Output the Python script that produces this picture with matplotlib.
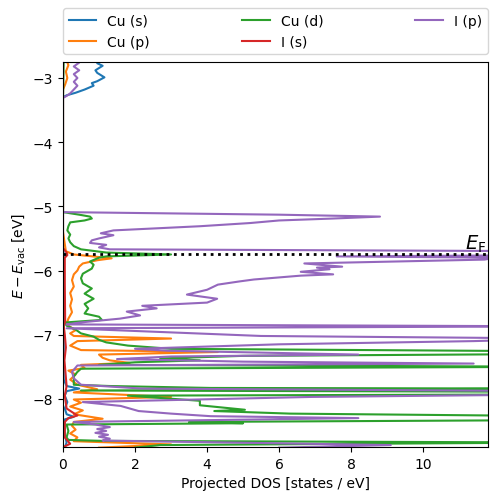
import matplotlib
matplotlib.use("Agg")
import matplotlib.pyplot as plt

# energy levels (eV, relative to vacuum)
e_fermi = -5.75
e_min, e_max = -8.75, -2.75
dos_max = 11.8

# Cu (s)
cu_s_E = [-2.70, -2.73, -2.77, -2.81, -2.88, -2.92, -2.99, -3.05, -3.08, -3.12, -3.18, -3.23, -3.27, -3.30,
          -5.60, -5.75, -7.70, -7.80, -7.84, -7.88, -7.95, -8.05, -8.15, -8.24, -8.28, -8.32, -8.55, -8.68, -8.76]
cu_s_dos = [1.0, 1.1, 0.95, 1.1, 0.9, 0.95, 1.15, 0.95, 0.8, 0.85, 0.6, 0.35, 0.1, 0.0,
            0.0, 0.02, 0.02, 0.1, 0.45, 0.1, 0.05, 0.12, 0.05, 0.1, 0.3, 0.05, 0.05, 0.1, 0.05]

# Cu (p)
cu_p_E = [-2.70, -2.80, -2.90, -3.00, -3.10, -3.18, -5.40, -5.55, -5.70, -5.75, -5.79, -5.81, -5.84, -5.89,
          -5.94, -6.00, -6.06, -6.15, -6.25, -6.35, -6.45, -6.55, -6.65, -6.75, -6.83, -6.88, -6.93, -6.98,
          -7.02, -7.06, -7.10, -7.17, -7.24, -7.27, -7.31, -7.36, -7.40, -7.44, -7.47, -7.52, -7.56, -7.62,
          -7.70, -7.78, -7.85, -7.90, -7.97, -8.01, -8.06, -8.12, -8.18, -8.24, -8.31, -8.36, -8.42, -8.48,
          -8.54, -8.60, -8.66, -8.71, -8.76]
cu_p_dos = [0.08, 0.15, 0.08, 0.12, 0.06, 0.0, 0.0, 0.04, 0.08, 0.3, 1.0, 1.35, 0.95, 0.55,
            0.45, 0.4, 0.3, 0.25, 0.3, 0.2, 0.25, 0.2, 0.25, 0.15, 0.1, 0.2, 0.35, 0.2,
            0.3, 3.0, 0.4, 0.2, 0.5, 4.3, 1.0, 1.1, 1.3, 1.85, 0.5, 0.6, 0.15, 0.35,
            0.2, 0.4, 0.95, 0.3, 3.0, 0.3, 0.5, 0.2, 0.55, 0.3, 1.1, 0.3, 0.25, 0.35,
            0.2, 0.4, 0.3, 3.0, 1.0]

# Cu (d)
cu_d_E = [-2.70, -3.30, -5.09, -5.13, -5.16, -5.19, -5.22, -5.25, -5.31, -5.375, -5.44, -5.50, -5.56,
          -5.62, -5.67, -5.72, -5.75, -5.78, -5.80, -5.86, -5.91, -5.97, -6.05, -6.12, -6.20, -6.28,
          -6.36, -6.44, -6.52, -6.59, -6.67, -6.72, -6.77, -6.81, -6.86, -6.92, -6.98, -7.03, -7.08,
          -7.12, -7.17, -7.22, -7.26, -7.30, -7.33, -7.37, -7.40, -7.43, -7.47, -7.50, -7.53, -7.58,
          -7.65, -7.72, -7.78, -7.80, -7.83, -7.84, -7.87, -7.89, -7.93, -7.95, -8.03, -8.10, -8.17,
          -8.19, -8.23, -8.27, -8.33, -8.36, -8.38, -8.40, -8.50, -8.60, -8.64, -8.655, -8.68, -8.72, -8.76]
cu_d_dos = [0.02, 0.0, 0.0, 0.45, 0.75, 0.8, 0.6, 0.2, 0.15, 0.12, 0.2, 0.15, 0.2,
            0.3, 0.5, 1.2, 3.0, 1.2, 1.0, 0.75, 0.85, 0.8, 0.55, 0.5, 0.55, 0.8,
            0.6, 0.85, 0.6, 0.7, 0.6, 1.0, 1.08, 0.05, 0.1, 0.35, 0.5, 0.85, 1.0,
            1.2, 1.8, 3.0, 14.0, 14.0, 5.0, 2.7, 3.8, 2.0, 1.0, 14.0, 0.5, 0.4,
            0.3, 0.3, 0.3, 1.3, 4.1, 14.0, 0.5, 14.0, 14.0, 1.8, 3.8, 3.8, 5.05,
            4.2, 6.3, 14.0, 14.0, 3.5, 5.0, 0.1, 0.15, 0.1, 0.15, 1.1, 14.0, 2.7, 2.0]

# I (s)
i_s_E = [-2.70, -5.65, -5.72, -5.76, -5.80, -6.20, -6.80, -6.86, -7.00, -7.20, -7.40, -7.60, -7.80,
         -7.95, -8.15, -8.26, -8.30, -8.36, -8.60, -8.70, -8.74, -8.76]
i_s_dos = [0.0, 0.0, 0.1, 0.12, 0.05, 0.05, 0.06, 0.02, 0.05, 0.08, 0.04, 0.07, 0.1,
           0.05, 0.1, 0.4, 0.15, 0.05, 0.05, 0.2, 0.05, 0.05]

# I (p)
i_p_E = [-2.70, -2.76, -2.82, -2.88, -2.94, -3.00, -3.06, -3.12, -3.18, -3.24, -3.28, -3.31,
         -5.09, -5.13, -5.16, -5.19, -5.22, -5.26, -5.31, -5.375, -5.42, -5.45, -5.50, -5.53, -5.57,
         -5.60, -5.64, -5.67, -5.70, -5.76, -5.78, -5.80, -5.83, -5.89, -5.94, -5.955, -5.98, -6.02,
         -6.06, -6.08, -6.14, -6.17, -6.22, -6.30, -6.375, -6.44, -6.50, -6.55, -6.59, -6.64, -6.70,
         -6.75, -6.81, -6.84, -6.87, -6.90, -7.02, -7.06, -7.10, -7.15, -7.22, -7.25, -7.31, -7.34,
         -7.38, -7.42, -7.45, -7.48, -7.58, -7.68, -7.78, -7.84, -7.88, -7.93, -7.97, -8.05, -8.11,
         -8.19, -8.23, -8.27, -8.30, -8.36, -8.40, -8.44, -8.47, -8.50, -8.53, -8.56, -8.59, -8.62,
         -8.65, -8.72, -8.76]
i_p_dos = [0.35, 0.45, 0.3, 0.45, 0.3, 0.4, 0.3, 0.4, 0.3, 0.2, 0.1, 0.0,
           0.0, 6.0, 8.8, 7.5, 6.0, 5.2, 3.8, 1.4, 1.05, 1.4, 1.0, 0.8, 0.75,
           1.2, 1.0, 1.3, 14.0, 14.0, 7.6, 12.0, 11.7, 6.7, 7.75, 7.05, 7.4, 6.6,
           7.5, 6.6, 5.3, 4.9, 4.3, 4.0, 3.44, 4.28, 4.0, 2.2, 2.6, 1.77, 2.14,
           1.58, 0.47, 0.1, 14.0, 0.1, 5.5, 14.0, 11.4, 6.0, 2.0, 2.9, 8.2, 3.0,
           1.5, 5.0, 11.4, 0.4, 0.25, 0.3, 0.5, 2.2, 14.0, 14.0, 6.9, 0.55, 1.6,
           2.1, 3.0, 4.1, 8.2, 0.3, 0.9, 1.3, 0.95, 1.2, 0.9, 1.25, 1.0, 1.3,
           1.1, 9.1, 6.0]

fig = plt.figure(figsize=(4.98, 5.02), dpi=100)
ax = fig.add_axes([0.1265, 0.1076, 0.8535, 0.767])

ax.plot(cu_s_dos, cu_s_E, label='Cu (s)')
ax.plot(cu_p_dos, cu_p_E, label='Cu (p)')
ax.plot(cu_d_dos, cu_d_E, label='Cu (d)')
ax.plot(i_s_dos, i_s_E, label='I (s)')
ax.plot(i_p_dos, i_p_E, label='I (p)')

ax.axhline(e_fermi, color='k', ls=':', lw=2, zorder=5)
ax.text(dos_max * 0.995, e_fermi, r'$E_\mathrm{F}$', ha='right', va='bottom', fontsize=14)

ax.set_xlim(0, dos_max)
ax.set_ylim(e_min, e_max)
ax.set_xlabel('Projected DOS [states / eV]')
ax.set_ylabel(r'$E - E_\mathrm{vac}$ [eV]')
ax.legend(bbox_to_anchor=(0, 1.02, 1, 0.102), loc='lower left', ncol=3,
          mode='expand', borderaxespad=0.)

fig.savefig('out.png', dpi=100)
